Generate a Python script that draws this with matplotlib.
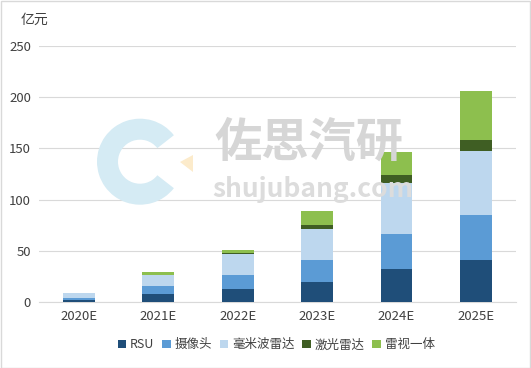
import numpy as np
import matplotlib
matplotlib.use("Agg")
import matplotlib.pyplot as plt
from matplotlib.patches import Wedge, Rectangle, Polygon

plt.rcParams['font.family'] = ['Noto Sans CJK SC', 'DejaVu Sans']

years = ['2020E', '2021E', '2022E', '2023E', '2024E', '2025E']
series_names = ['RSU', '摄像头', '毫米波雷达', '激光雷达', '雷视一体']
rsu = [2.5, 8.0, 12.5, 19.5, 32.5, 41.5]
camera = [1.5, 7.5, 14.0, 22.0, 34.0, 44.0]
mmwave = [4.5, 11.0, 20.5, 29.5, 50.0, 62.0]
lidar = [0.0, 0.3, 0.5, 4.0, 7.5, 10.5]
fusion = [0.0, 2.3, 3.5, 13.5, 23.0, 48.0]
colors = ['#1F4E79', '#5B9BD5', '#BDD7EE', '#3F5E23', '#8DBF4E']

fig = plt.figure(figsize=(5.31, 3.68), dpi=100)
ax = fig.add_axes([0.074, 0.179, 0.897, 0.696])

# watermark (logo drawn in inches so it stays round)
inch = fig.dpi_scale_trans
fig.patches.append(Wedge((1.40, 2.063), 0.43, 38, 322, width=0.21, transform=inch,
                         facecolor='#D5EBF4', edgecolor='none', zorder=0))
fig.patches.append(Polygon([(1.80, 2.06), (1.93, 2.13), (1.93, 1.96)], closed=True,
                           transform=inch, facecolor='#FCEBCB', edgecolor='none', zorder=0))
fig.text(0.582, 0.611, '佐思汽研', fontsize=34, color='#D6D6D6', ha='center', va='center',
         fontweight='bold', zorder=0)
fig.text(0.589, 0.486, 'shujubang.com', fontsize=19, color='#DCDCDC', ha='center', va='center',
         fontweight='bold', zorder=0)

x = np.arange(len(years))
data = [rsu, camera, mmwave, lidar, fusion]
bottom = np.zeros(len(years))
for name, vals, c in zip(series_names, data, colors):
    ax.bar(x, vals, 0.4, bottom=bottom, color=c, label=name, zorder=3)
    bottom += np.array(vals)

ax.set_xlim(-0.5, 5.5)
ax.set_ylim(0, 250)
ax.set_yticks(range(0, 251, 50))
ax.set_xticks(x)
ax.set_xticklabels(years)
ax.tick_params(length=0, labelsize=9.5, colors='#404040', pad=6)
ax.grid(axis='y', color='#D9D9D9', linewidth=0.8, zorder=2)
for s in ['top', 'right', 'left']:
    ax.spines[s].set_visible(False)
ax.spines['bottom'].set_color('#D9D9D9')
ax.patch.set_alpha(0)

fig.text(0.038, 0.945, '亿元', fontsize=10, color='#404040', va='center')

fig.legend(loc='center', bbox_to_anchor=(0.52, 0.063), ncol=5, frameon=False,
           fontsize=9, handlelength=0.7, handleheight=0.7, handletextpad=0.3,
           columnspacing=0.6, labelcolor='#404040')

fig.patches.append(Rectangle((0.001, 0.001), 0.997, 0.997, transform=fig.transFigure,
                             fill=False, edgecolor='#D9D9D9', linewidth=1))

fig.savefig('out.png', dpi=100)
